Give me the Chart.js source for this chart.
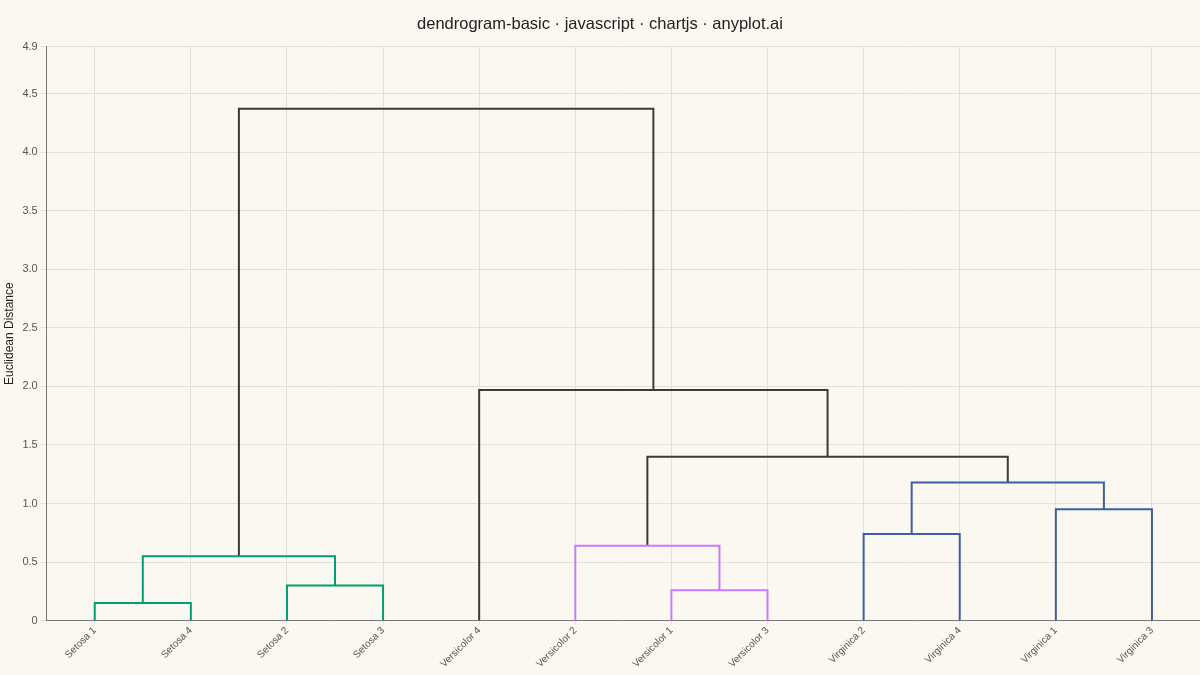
<!DOCTYPE html>
<html>
<head>
<meta charset="utf-8">
<script src="https://cdn.jsdelivr.net/npm/chart.js@4"></script>
<style>
  html, body { margin: 0; padding: 0; background: #FAF8F1; }
  #wrap { width: 1200px; height: 675px; }
</style>
</head>
<body>
<div id="wrap"><canvas id="chart"></canvas></div>
<script>
// leaves in dendrogram order (left -> right)
const leafLabels = ["Setosa 1", "Setosa 4", "Setosa 2", "Setosa 3",
                    "Versicolor 4", "Versicolor 2", "Versicolor 1", "Versicolor 3",
                    "Virginica 2", "Virginica 4", "Virginica 1", "Virginica 3"];

// linkage: node ids 0..11 are leaves, each merge creates node 12, 13, ...
const mergeLeft   = [0, 2, 12, 6, 5, 8, 10, 17, 16, 4, 14];
const mergeRight  = [1, 3, 13, 7, 15, 9, 11, 18, 19, 20, 21];
const mergeHeight = [0.15, 0.30, 0.55, 0.26, 0.64, 0.74, 0.95, 1.18, 1.40, 1.97, 4.37];
const mergeGroup  = ["setosa", "setosa", "setosa", "versicolor", "versicolor",
                     "virginica", "virginica", "virginica", "above", "above", "above"];

const yTicks = [0, 0.5, 1.0, 1.5, 2.0, 2.5, 3.0, 3.5, 4.0, 4.5, 4.9];

const groupColors = {
    setosa: "#009E73",
    versicolor: "#C77CFF",
    virginica: "#3D5FA3",
    above: "#3A3A3A"
};

// position/height of every node
const nodeX = leafLabels.map((_, i) => i);
const nodeY = leafLabels.map(() => 0);

const datasets = mergeLeft.map((l, i) => {
    const r = mergeRight[i];
    const h = mergeHeight[i];
    const pts = [
        { x: nodeX[l], y: nodeY[l] },
        { x: nodeX[l], y: h },
        { x: nodeX[r], y: h },
        { x: nodeX[r], y: nodeY[r] }
    ];
    nodeX.push((nodeX[l] + nodeX[r]) / 2);
    nodeY.push(h);
    return {
        data: pts,
        showLine: true,
        borderColor: groupColors[mergeGroup[i]],
        borderWidth: 2,
        pointRadius: 0,
        pointHoverRadius: 0,
        fill: false,
        tension: 0
    };
});

new Chart(document.getElementById("chart"), {
    type: "scatter",
    data: { datasets },
    options: {
        responsive: true,
        maintainAspectRatio: false,
        animation: false,
        layout: { padding: { left: 0, right: 0, top: 0, bottom: 5 } },
        plugins: {
            legend: { display: false },
            tooltip: { enabled: false },
            title: {
                display: true,
                text: "dendrogram-basic · javascript · chartjs · anyplot.ai",
                color: "#222",
                font: { family: "Liberation Sans", size: 16.5, weight: "normal" },
                padding: { top: 15, bottom: 12 }
            }
        },
        scales: {
            x: {
                type: "linear",
                min: -0.5, max: leafLabels.length - 0.5,
                afterBuildTicks: axis => { axis.ticks = leafLabels.map((_, i) => ({ value: i })); },
                ticks: {
                    callback: v => leafLabels[v],
                    minRotation: 45, maxRotation: 45,
                    padding: 0,
                    color: "#555",
                    font: { family: "Liberation Sans", size: 10 }
                },
                grid: { color: "#E3E0D8", tickLength: 4 },
                border: { color: "#777", width: 1 }
            },
            y: {
                min: 0, max: 4.9,
                afterBuildTicks: axis => { axis.ticks = yTicks.map(v => ({ value: v })); },
                ticks: {
                    callback: v => v === 0 ? "0" : v.toFixed(1),
                    color: "#555",
                    font: { family: "Liberation Sans", size: 11 }
                },
                title: {
                    display: true,
                    text: "Euclidean Distance",
                    color: "#222",
                    font: { family: "Liberation Sans", size: 12 },
                    padding: { top: 2, bottom: 3 }
                },
                grid: { color: "#E3E0D8", tickLength: 6 },
                border: { color: "#777", width: 1 }
            }
        }
    }
});
</script>
</body>
</html>
